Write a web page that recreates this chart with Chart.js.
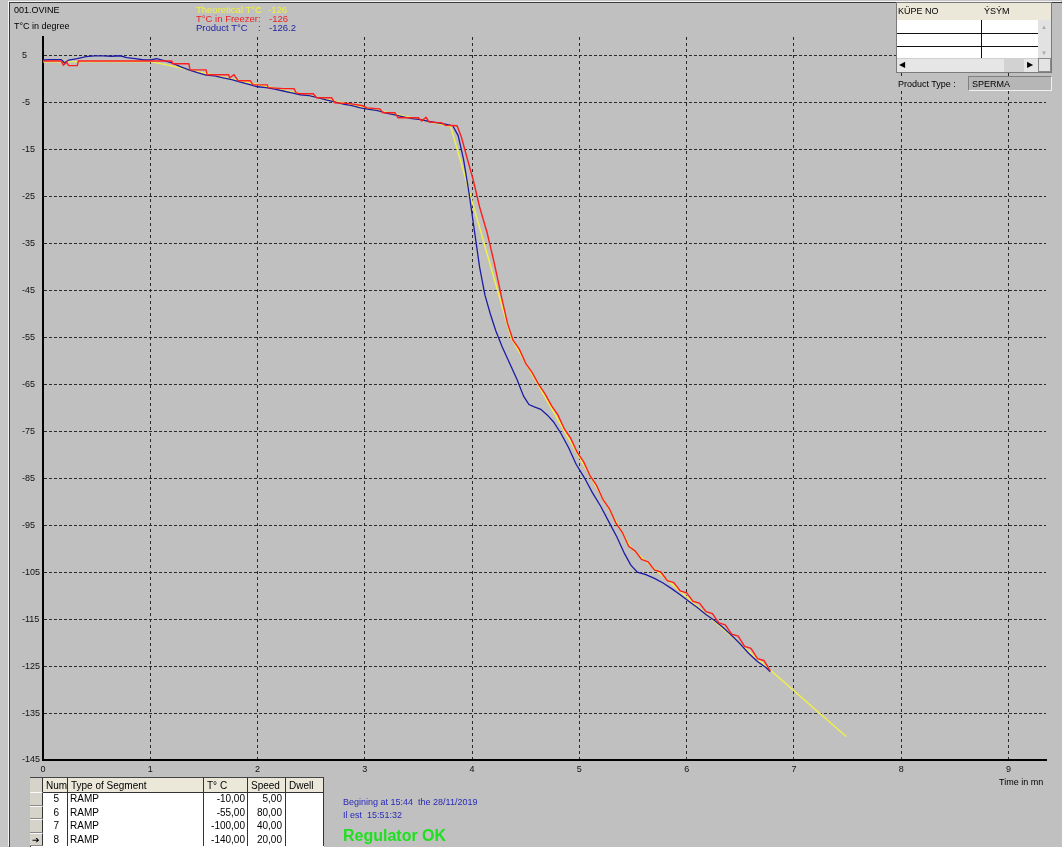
<!DOCTYPE html>
<html>
<head>
<meta charset="utf-8">
<script src="https://cdn.jsdelivr.net/npm/chart.js@4.4.0/dist/chart.umd.min.js"></script>
<style>
  html, body { margin: 0; padding: 0; }
  body {
    width: 1062px; height: 847px; position: relative; overflow: hidden;
    background: #c6c6c6; font-family: "Liberation Sans", Arial, sans-serif;
  }
  #frame {
    position: absolute; left: 9px; top: 2px; right: 0; bottom: 0;
    background: #c0c0c0; border-top: 1px solid #3a3a3a; border-left: 1px solid #3a3a3a;
    box-shadow: -1px -1px 0 #f4f4f4;
  }
  #plot { position: absolute; left: 0; top: 0; }
  .t { position: absolute; white-space: pre; font-size: 9px; line-height: 10px; color: #000; }
  .box { position: absolute; box-sizing: border-box; }
  .cell { position: absolute; box-sizing: border-box; white-space: pre; font-size: 10px; line-height: 13px; overflow: hidden; }
</style>
</head>
<body>
<div id="frame"></div>
<canvas id="plot" width="1062" height="847"></canvas>

<!-- header texts -->
<div class="t" style="left:14px;top:5px;">001.OVINE</div>
<div class="t" style="left:14px;top:21px;">T°C in degree</div>

<div class="t" style="left:196px;top:5px;color:#f2f040;font-size:9.5px;">Theoretical T°C</div>
<div class="t" style="left:257px;top:5px;color:#f2f040;font-size:9.5px;">:</div>
<div class="t" style="left:268px;top:5px;color:#f2f040;font-size:9.5px;">-126</div>
<div class="t" style="left:196px;top:14px;color:#ee2020;font-size:9.5px;">T°C in Freezer</div>
<div class="t" style="left:258px;top:14px;color:#ee2020;font-size:9.5px;">:</div>
<div class="t" style="left:269px;top:14px;color:#ee2020;font-size:9.5px;">-126</div>
<div class="t" style="left:196px;top:23px;color:#1e1ea0;font-size:9.5px;">Product T°C</div>
<div class="t" style="left:258px;top:23px;color:#1e1ea0;font-size:9.5px;">:</div>
<div class="t" style="left:269px;top:23px;color:#1e1ea0;font-size:9.5px;">-126.2</div>

<!-- top right list widget -->
<div class="box" style="left:896px;top:2px;width:156px;height:71px;background:#fff;border:1px solid #7a7a7a;"></div>
<div class="box" style="left:897px;top:3px;width:154px;height:17px;background:#ebe8da;"></div>
<div class="t" style="left:898px;top:6px;">KÜPE NO</div>
<div class="t" style="left:984px;top:6px;">ÝSÝM</div>
<div class="box" style="left:897px;top:33px;width:141px;height:1px;background:#111;"></div>
<div class="box" style="left:897px;top:46px;width:141px;height:1px;background:#111;"></div>
<div class="box" style="left:981px;top:20px;width:1px;height:38px;background:#111;"></div>
<div class="box" style="left:1038px;top:20px;width:13px;height:38px;background:#e2e2e2;"></div>
<div class="t" style="left:1041px;top:22px;font-size:6px;color:#a8a8a8;">▲</div>
<div class="t" style="left:1041px;top:48px;font-size:6px;color:#a8a8a8;">▼</div>
<div class="box" style="left:897px;top:58px;width:141px;height:14px;background:#e6e6e6;border-top:1px solid #cfcfcf;"></div>
<div class="box" style="left:1004px;top:59px;width:20px;height:13px;background:#d2d2d2;"></div>
<div class="t" style="left:899px;top:60px;font-size:8px;">◀</div>
<div class="t" style="left:1027px;top:60px;font-size:8px;">▶</div>
<div class="box" style="left:1038px;top:58px;width:13px;height:14px;background:#e4e4e4;border:1px solid #8a8a8a;"></div>

<div class="box" style="left:896px;top:76px;width:70px;height:15px;background:#c0c0c0;"></div>
<div class="t" style="left:898px;top:79px;">Product Type :</div>
<div class="box" style="left:968px;top:76px;width:84px;height:15px;background:#b6b6b6;border-top:1px solid #808080;border-left:1px solid #808080;border-bottom:1px solid #f0f0f0;border-right:1px solid #f0f0f0;"></div>
<div class="t" style="left:972px;top:79px;">SPERMA</div>

<!-- axis caption -->
<div class="t" style="left:999px;top:777px;">Time in mn</div>

<!-- run info -->
<div class="t" style="left:343px;top:797px;color:#2a2ab8;font-size:9px;">Begining at 15:44  the 28/11/2019</div>
<div class="t" style="left:343px;top:810px;color:#2a2ab8;font-size:9px;">Il est  15:51:32</div>
<div class="t" style="left:343px;top:827px;color:#1ee01e;font-size:16px;line-height:18px;font-weight:bold;">Regulator OK</div>

<div id="segTable"></div>

<script>
// Curve data: [time in minutes, temperature in °C]
const theoreticalSeries = [
  [0, 3.7], [1.0, 3.8], [3.8, -10], [4.3625, -55], [5.4875, -100], [7.4875, -140]
];

const freezerSeries = [
  [0.00, 3.9], [0.17, 3.9], [0.19, 3.0], [0.22, 3.6], [0.24, 2.9], [0.32, 2.9], [0.33, 3.9],
  [1.00, 3.9], [1.20, 3.9], [1.21, 3.3], [1.36, 3.3], [1.37, 2.0], [1.52, 2.0], [1.53, 0.95],
  [1.73, 0.95], [1.74, 0.3], [1.78, 0.95], [1.82, -0.33], [1.93, -0.33], [1.96, -1.2],
  [2.09, -1.2], [2.10, -1.8], [2.24, -2.0], [2.34, -2.0], [2.36, -2.9], [2.40, -3.1],
  [2.52, -3.1], [2.55, -3.95], [2.69, -3.95], [2.72, -5.0], [2.86, -5.2], [2.98, -5.65],
  [3.02, -6.1], [3.14, -6.3], [3.17, -7.15], [3.28, -7.15], [3.31, -8.2], [3.50, -8.2],
  [3.53, -8.9], [3.57, -8.1], [3.60, -9.1], [3.72, -9.3], [3.75, -9.8], [3.86, -9.9],
  [3.90, -12.3], [3.95, -16.5], [4.01, -21.4], [4.07, -27.2], [4.14, -32.7], [4.20, -38.5],
  [4.24, -42.7], [4.28, -47], [4.33, -52], [4.38, -55.5], [4.44, -57.5], [4.50, -60.5],
  [4.56, -62.5], [4.62, -65], [4.68, -67], [4.74, -69.5], [4.80, -71.5], [4.86, -74.5],
  [4.92, -76.5], [4.98, -79.5], [5.04, -81.5], [5.10, -84.5], [5.16, -86.5], [5.22, -89.5],
  [5.28, -91.5], [5.34, -94.5], [5.40, -96.5], [5.46, -99.5], [5.52, -100.5], [5.58, -102.3],
  [5.64, -102.8], [5.70, -104.5], [5.76, -105], [5.82, -106.8], [5.88, -107.2], [5.94, -109],
  [6.00, -109.4], [6.06, -111.2], [6.12, -111.6], [6.18, -113.4], [6.24, -113.8], [6.30, -115.8],
  [6.36, -116.2], [6.42, -118.2], [6.48, -118.6], [6.54, -120.8], [6.60, -121.2], [6.66, -123.4],
  [6.72, -123.8], [6.78, -126]
];

const productSeries = [
  [0.00, 4.1], [0.08, 4.2], [0.17, 4.2], [0.20, 3.5], [0.24, 4.1], [0.32, 4.4], [0.40, 4.8],
  [0.48, 5.0], [0.56, 5.0], [0.64, 4.9], [0.72, 5.0], [0.78, 4.6], [0.86, 4.4], [0.94, 4.1],
  [1.00, 4.1], [1.06, 4.4], [1.12, 4.0], [1.20, 3.5], [1.28, 2.7], [1.36, 2.0], [1.44, 1.4],
  [1.52, 0.9], [1.60, 0.7], [1.68, 0.3], [1.76, -0.1], [1.84, -0.6], [1.92, -1.1], [2.00, -1.6],
  [2.08, -1.8], [2.16, -2.1], [2.24, -2.5], [2.32, -2.9], [2.40, -3.3], [2.48, -3.5],
  [2.56, -3.9], [2.64, -4.4], [2.72, -4.8], [2.80, -5.3], [2.88, -5.6], [2.96, -6.1],
  [3.04, -6.4], [3.12, -6.7], [3.20, -7.2], [3.28, -7.6], [3.36, -8.0], [3.44, -8.4],
  [3.52, -8.6], [3.60, -9.0], [3.68, -9.3], [3.76, -9.6], [3.82, -9.9], [3.87, -12],
  [3.92, -17], [3.97, -24], [4.02, -32], [4.07, -40], [4.12, -46], [4.17, -50], [4.22, -53.5],
  [4.28, -57], [4.35, -60.5], [4.42, -64], [4.48, -67.5], [4.53, -69.3], [4.58, -69.8],
  [4.64, -70.3], [4.70, -71.5], [4.76, -73], [4.83, -75.5], [4.90, -78.5], [4.97, -82],
  [5.05, -85], [5.12, -88], [5.20, -91], [5.28, -94.5], [5.35, -97.5], [5.42, -101],
  [5.48, -103.5], [5.54, -105], [5.62, -105.5], [5.70, -106.3], [5.78, -107.3], [5.86, -108.5],
  [5.94, -109.8], [6.02, -111.2], [6.10, -112.5], [6.18, -114], [6.26, -115.3], [6.34, -116.8],
  [6.42, -118.5], [6.50, -120.3], [6.58, -122.3], [6.66, -124], [6.74, -125.3], [6.78, -126.2]
];

const xTicks = [0, 1, 2, 3, 4, 5, 6, 7, 8, 9];
const yTicks = [5, -5, -15, -25, -35, -45, -55, -65, -75, -85, -95, -105, -115, -125, -135, -145];

// Segment program shown under the plot
const segNum = ['5', '6', '7', '8'];
const segType = ['RAMP', 'RAMP', 'RAMP', 'RAMP'];
const segTemp = ['-10,00', '-55,00', '-100,00', '-140,00'];
const segSpeed = ['5,00', '80,00', '40,00', '20,00'];

const toXY = arr => arr.map(([x, y]) => ({ x, y }));
const tickFont = { family: '"Liberation Sans", Arial, sans-serif', size: 9 };

new Chart(document.getElementById('plot'), {
  type: 'line',
  data: {
    datasets: [
      { label: 'Theoretical T°C', data: toXY(theoreticalSeries), borderColor: '#f2ef46', borderWidth: 1.4, order: 3 },
      { label: 'T°C in Freezer', data: toXY(freezerSeries), borderColor: '#ff1e1e', borderWidth: 1.4, order: 1 },
      { label: 'Product T°C', data: toXY(productSeries), borderColor: '#1c1ca6', borderWidth: 1.3, order: 2 }
    ]
  },
  options: {
    responsive: false,
    animation: false,
    events: [],
    layout: { padding: { left: 22, top: 37, right: 16, bottom: 0 } },
    elements: { point: { radius: 0 }, line: { tension: 0, fill: false } },
    plugins: { legend: { display: false }, tooltip: { enabled: false } },
    scales: {
      x: {
        type: 'linear', min: 0, max: 9.35,
        afterBuildTicks: s => { s.ticks = xTicks.map(v => ({ value: v })); },
        afterFit: s => { s.height = 87; },
        grid: { color: '#2a2a2a', lineWidth: 1, drawTicks: false },
        border: { display: true, color: '#000', width: 2, dash: [3, 3] },
        ticks: { font: tickFont, color: '#111', padding: 4, maxRotation: 0, autoSkip: false, callback: v => String(v) }
      },
      y: {
        type: 'linear', min: -145, max: 9,
        afterBuildTicks: s => { s.ticks = yTicks.map(v => ({ value: v })); },
        afterFit: s => { s.width = 21; },
        grid: { color: '#2a2a2a', lineWidth: 1, drawTicks: false },
        border: { display: true, color: '#000', width: 2, dash: [3, 2] },
        ticks: { font: tickFont, color: '#111', padding: 0, crossAlign: 'far', autoSkip: false, callback: v => String(v) }
      }
    }
  }
});

// Segment table
(function buildTable() {
  const host = document.getElementById('segTable');
  const cols = [30, 43, 68, 204, 248, 286, 324];
  const heads = ['', 'Num', 'Type of Segment', 'T° C', 'Speed', 'Dwell'];
  const top = 777, headH = 15, rowH = 13.5;
  const add = (html, style) => {
    const d = document.createElement('div');
    d.className = 'cell';
    d.style.cssText = style;
    d.textContent = html;
    host.appendChild(d);
    return d;
  };
  // outer frame + white body
  add('', `left:${cols[0]}px;top:${top}px;width:${cols[6] - cols[0]}px;height:${847 - top}px;background:#fff;border-top:1px solid #444;border-left:1px solid #444;`);
  // header cells
  for (let c = 0; c < 6; c++) {
    const bg = c === 0 ? '#d6d3cb' : '#ebe8da';
    add(heads[c], `left:${cols[c]}px;top:${top}px;width:${cols[c + 1] - cols[c]}px;height:${headH + 1}px;background:${bg};border-right:1px solid #333;border-bottom:1px solid #333;border-top:1px solid #444;padding:1px 0 0 3px;`);
  }
  for (let r = 0; r < segNum.length; r++) {
    const y = top + headH + r * rowH;
    add(r === 3 ? '➔' : '', `left:${cols[0]}px;top:${y}px;width:${cols[1] - cols[0]}px;height:${rowH}px;background:#d6d3cb;border-top:1px solid #fafafa;border-right:1px solid #333;border-bottom:1px solid #8a8a8a;font-size:9px;text-align:center;line-height:12px;`);
    add(segNum[r], `left:${cols[1]}px;top:${y}px;width:${cols[2] - cols[1]}px;height:${rowH}px;text-align:right;padding-right:8px;border-right:1px solid #333;`);
    add(segType[r], `left:${cols[2]}px;top:${y}px;width:${cols[3] - cols[2]}px;height:${rowH}px;padding-left:2px;border-right:1px solid #333;`);
    add(segTemp[r], `left:${cols[3]}px;top:${y}px;width:${cols[4] - cols[3]}px;height:${rowH}px;text-align:right;padding-right:2px;border-right:1px solid #333;`);
    add(segSpeed[r], `left:${cols[4]}px;top:${y}px;width:${cols[5] - cols[4]}px;height:${rowH}px;text-align:right;padding-right:3px;border-right:1px solid #333;`);
    add('', `left:${cols[5]}px;top:${y}px;width:${cols[6] - cols[5]}px;height:${rowH}px;border-right:1px solid #333;`);
  }
})();
</script>
</body>
</html>
